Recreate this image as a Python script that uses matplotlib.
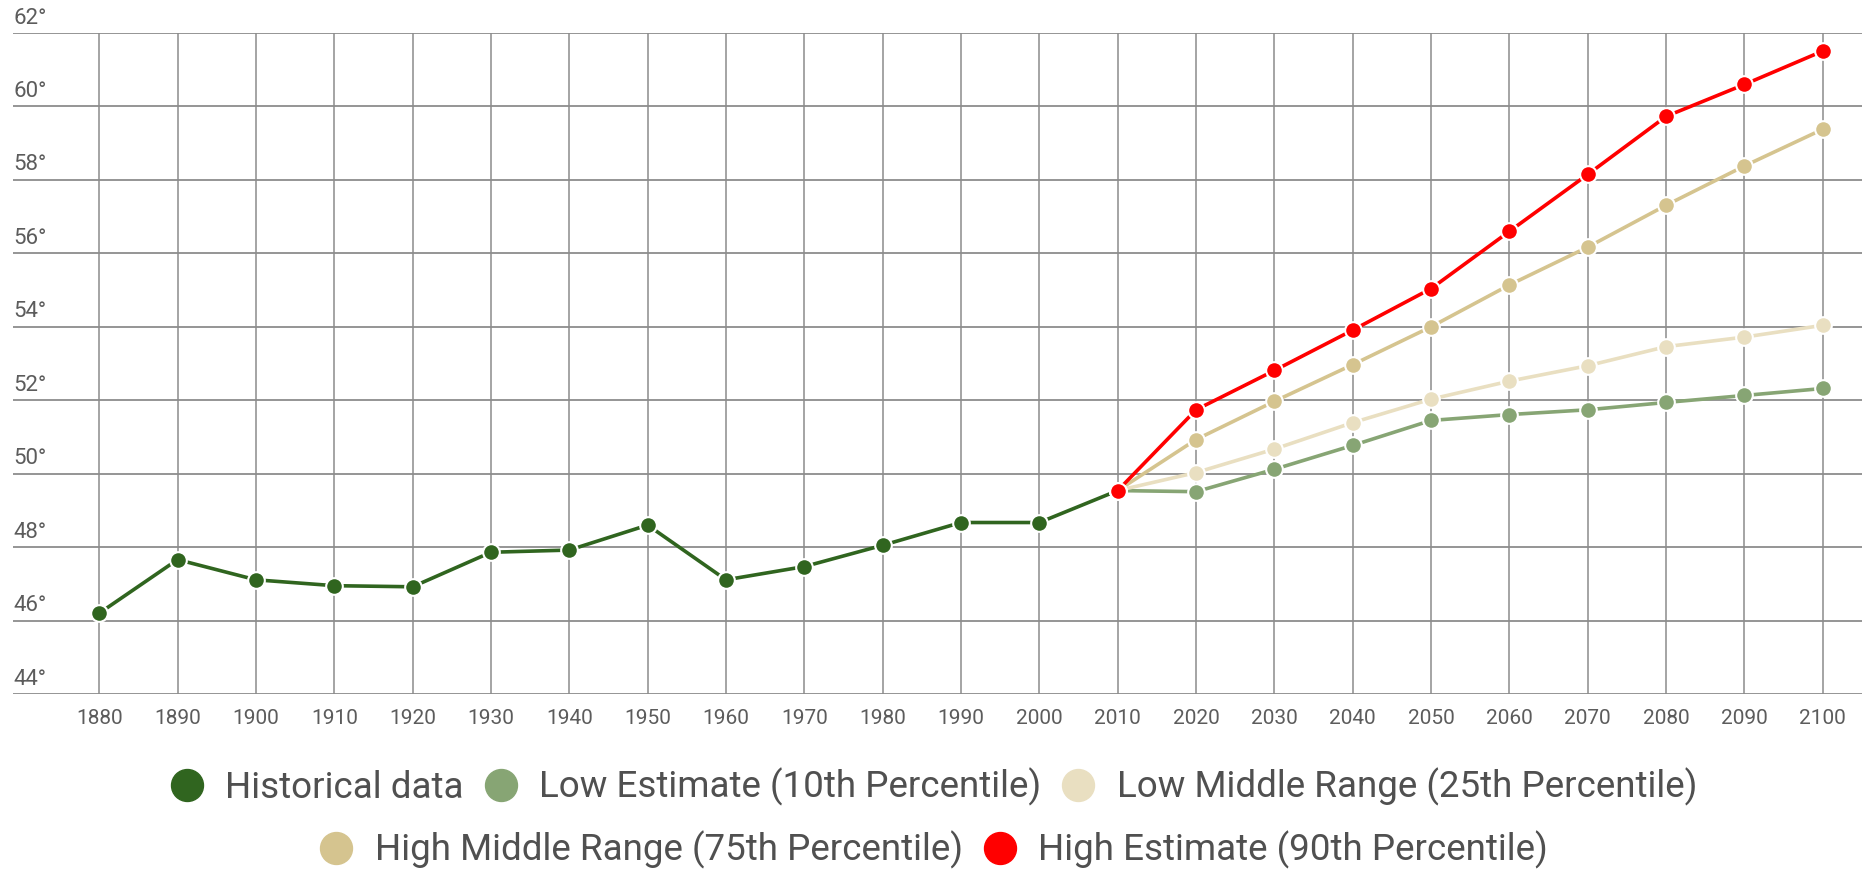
import matplotlib.pyplot as plt
from matplotlib.lines import Line2D
from matplotlib.transforms import blended_transform_factory

plt.rcParams['font.family'] = ['Roboto', 'DejaVu Sans']

# Historical temperature record
hist_years = [1880, 1890, 1900, 1910, 1920, 1930, 1940, 1950, 1960, 1970, 1980, 1990, 2000, 2010]
hist_vals = [46.2, 47.66, 47.11, 46.95, 46.92, 47.86, 47.92, 48.6, 47.11, 47.47, 48.05, 48.67, 48.67, 49.54]

# Projections, each starting from the 2010 value
proj_years = [2010, 2020, 2030, 2040, 2050, 2060, 2070, 2080, 2090, 2100]
low_est = [49.54, 49.51, 50.12, 50.77, 51.45, 51.61, 51.74, 51.94, 52.13, 52.32]
low_mid = [49.54, 50.03, 50.67, 51.39, 52.03, 52.52, 52.94, 53.46, 53.72, 54.04]
high_mid = [49.54, 50.93, 51.97, 52.97, 54.0, 55.14, 56.17, 57.31, 58.38, 59.38]
high_est = [49.54, 51.74, 52.81, 53.91, 55.04, 56.6, 58.15, 59.73, 60.6, 61.51]

labels = ['Historical data', 'Low Estimate (10th Percentile)', 'Low Middle Range (25th Percentile)',
          'High Middle Range (75th Percentile)', 'High Estimate (90th Percentile)']
colors = ['#30651f', '#87a574', '#e9dfc1', '#d5c48f', '#ff0000']

y_ticks = list(range(44, 63, 2))
x_ticks = list(range(1880, 2101, 10))

fig = plt.figure(figsize=(18.62, 8.71), dpi=100)
ax = fig.add_axes([0.007, 0.2032, 0.993, 0.7589])

# grid
for y in y_ticks:
    ax.axhline(y, color='#8c8c8c', lw=1.3, zorder=1)
for x in x_ticks:
    ax.plot([x, x], [44, 62], color='#8c8c8c', lw=1.1, zorder=1)

mk = dict(marker='o', markersize=12, markeredgecolor='white', markeredgewidth=1.5, lw=2.6)
series = [(proj_years, low_est, colors[1]), (proj_years, low_mid, colors[2]),
          (proj_years, high_mid, colors[3])]
ax.plot(hist_years, hist_vals, color=colors[0], zorder=3, **mk)
for xs, ys, c in series:
    ax.plot(xs, ys, color=c, zorder=4, **mk)
ax.plot(proj_years, high_est, color=colors[4], zorder=5, **mk)

ax.set_xlim(1869, 2105)
ax.set_ylim(44, 62)
ax.set_xticks(x_ticks)
ax.set_xticklabels([str(x) for x in x_ticks])
ax.set_yticks([])
ax.tick_params(axis='x', length=0, pad=11, labelsize=15, labelcolor='#5c5c5c')
for s in ax.spines.values():
    s.set_visible(False)
ax.patch.set_alpha(0)

trans = blended_transform_factory(ax.transAxes, ax.transData)
for y in y_ticks:
    ax.text(0, y + 0.12, f'{y}°', transform=trans, ha='left', va='bottom',
            fontsize=16, color='#5c5c5c')

handles = [Line2D([], [], ls='none', marker='o', markersize=23, color=c) for c in colors]
leg_kw = dict(frameon=False, fontsize=26.5, handletextpad=0.45, columnspacing=0.4,
              labelcolor='#505050', handlelength=1.2, borderaxespad=0)
fig.legend(handles[:3], labels[:3], ncol=3, loc='center',
           bbox_to_anchor=(0.5, 1 - 787 / 871), **leg_kw)
fig.legend(handles[3:], labels[3:], ncol=2, loc='center',
           bbox_to_anchor=(0.5, 1 - 850 / 871), **leg_kw)

fig.savefig('out.png', dpi=100)
